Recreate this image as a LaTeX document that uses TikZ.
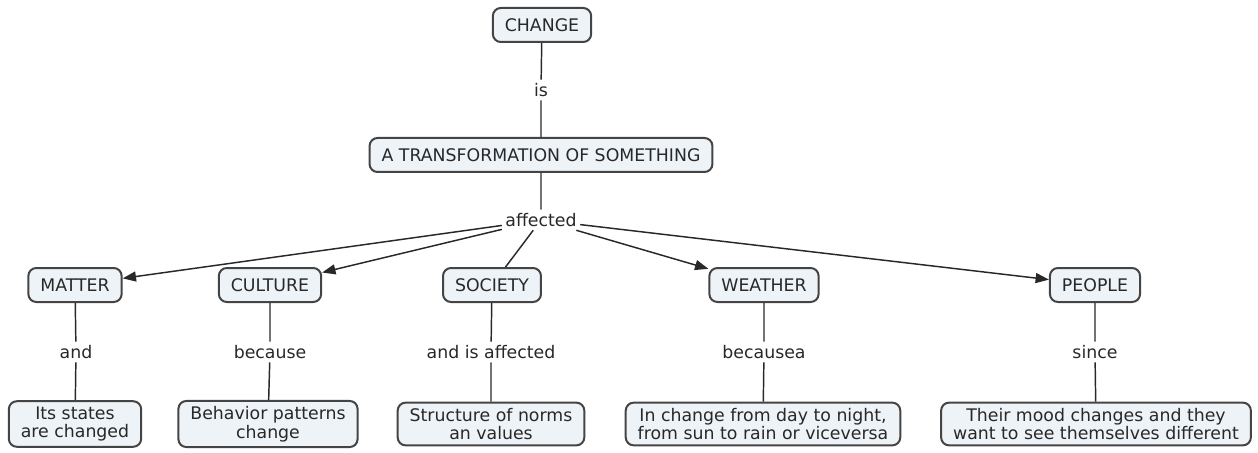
\documentclass[tikz,border=0pt]{standalone}
\usepackage{fontspec}
\setmainfont{DejaVu Sans}
\usetikzlibrary{arrows.meta}
\definecolor{boxfill}{RGB}{238,243,247}
\definecolor{boxline}{RGB}{68,68,68}
\definecolor{inkgray}{RGB}{40,40,40}
\tikzset{
	concept/.style={draw=boxline, line width=1.5pt, fill=boxfill, rounded corners=6pt, text=inkgray, inner xsep=9pt, inner ysep=4pt, minimum height=25.5pt, align=center, font=\fontsize{13}{14}\selectfont},
	phrase/.style={inner sep=2.5pt, text=inkgray, font=\fontsize{13}{14}\selectfont},
	link/.style={draw=inkgray, line width=1.1pt},
	arrowlink/.style={link, -{Triangle[length=10pt,width=7.5pt]}}
}
\begin{document}
\begin{tikzpicture}[x=0.75pt,y=0.75pt,yscale=-1,xscale=1]
	\useasboundingbox (0,0) rectangle (1258,453);
	\draw (542,25) node [concept] (change) {CHANGE};
	\draw (541,90) node [phrase] (is) {is};
	\draw (541,155) node [concept] (transform) {A TRANSFORMATION OF SOMETHING};
	\draw (541,220) node [phrase] (affected) {affected};
	\draw (75,285) node [concept] (matter) {MATTER};
	\draw (270,285) node [concept] (culture) {CULTURE};
	\draw (492,285) node [concept] (society) {SOCIETY};
	\draw (764,285) node [concept] (weather) {WEATHER};
	\draw (1095,285) node [concept] (people) {PEOPLE};
	\draw (76,352) node [phrase] (and) {and};
	\draw (270,352) node [phrase] (because) {because};
	\draw (491,352) node [phrase] (andis) {and is affected};
	\draw (764,352) node [phrase] (becausea) {becausea};
	\draw (1095,352) node [phrase] (since) {since};
	\draw (75,424) node [concept] (states) {Its states\\are changed};
	\draw (268,424) node [concept] (behavior) {Behavior patterns\\change};
	\draw (491,424) node [concept] (norms) {Structure of norms\\an values};
	\draw (763,424) node [concept] (daynight) {In change from day to night,\\from sun to rain or viceversa};
	\draw (1096,424) node [concept] (mood) {Their mood changes and they\\want to see themselves different};
	\draw [link] (change) -- (is) -- (transform) -- (affected);
	\draw [arrowlink] (affected) -- (matter);
	\draw [arrowlink] (affected) -- (culture);
	\draw [link] (affected) -- (society);
	\draw [arrowlink] (affected) -- (weather);
	\draw [arrowlink] (affected) -- (people);
	\draw [link] (matter) -- (and) -- (states);
	\draw [link] (culture) -- (because) -- (behavior);
	\draw [link] (society) -- (andis) -- (norms);
	\draw [link] (weather) -- (becausea) -- (daynight);
	\draw [link] (people) -- (since) -- (mood);
\end{tikzpicture}
\end{document}
